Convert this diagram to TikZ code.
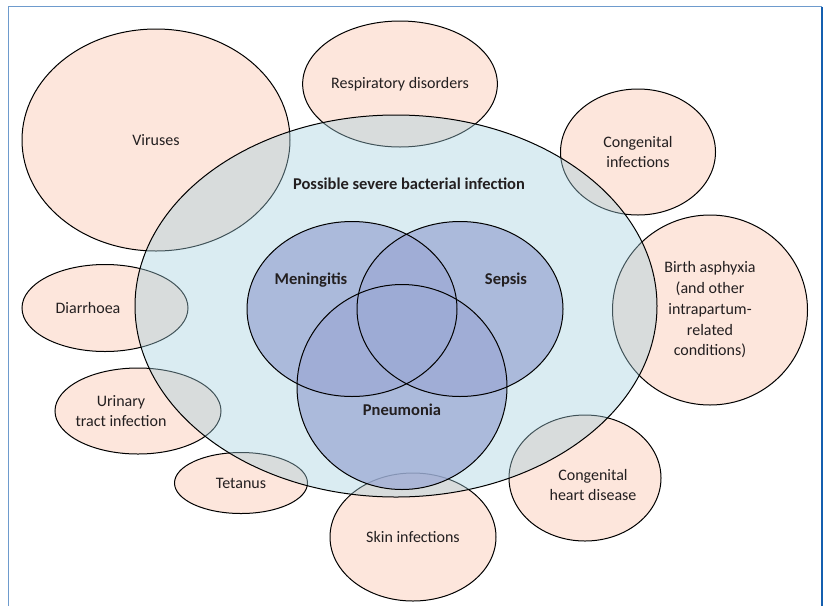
\documentclass[tikz,border=0pt]{standalone}
\usepackage{fontspec}
\setmainfont{Carlito}
\usetikzlibrary{shapes.geometric}

\definecolor{causefill}{RGB}{253,230,220}
\definecolor{psbifill}{RGB}{162,207,222}
\definecolor{vennfill}{RGB}{156,170,212}
\definecolor{frameleft}{RGB}{110,155,205}
\definecolor{frameright}{RGB}{20,95,175}
\definecolor{textgrey}{RGB}{35,31,32}

\begin{document}
\begin{tikzpicture}[x=1pt,y=-1pt,line width=1pt]
    \tikzstyle{every node}=[font=\fontsize{16}{20.75}\selectfont, text=textgrey]
    \tikzstyle{cause}=[ellipse,draw=black,fill=causefill,inner sep=0pt,align=center]
    \tikzstyle{venn}=[ellipse,inner sep=0pt,fill=vennfill,fill opacity=0.75]
    \tikzstyle{annot}=[font=\fontsize{16.5}{20.75}\selectfont\bfseries]

    \useasboundingbox (0,0) rectangle (824,606);
    % frame
    \draw[frameleft, line width=1.5pt] (8.5,606) -- (8.5,6.5) -- (822,6.5);
    \draw[frameright, line width=1.5pt] (822,6.5) -- (822,606);

    % other causes, drawn below the big ellipse
    \node[cause, minimum width=268pt, minimum height=222pt] (vir) at (156,140) {Viruses};
    \node[cause, minimum width=194pt, minimum height=126pt] (resp) at (400,84) {Respiratory disorders};
    \node[cause, minimum width=155pt, minimum height=126pt] (cinf) at (638,152) {Congenital\\infections};
    \node[cause, minimum width=195pt, minimum height=190pt] (asph) at (710,310)
        {Birth asphyxia\\(and other\\intrapartum-\\related\\conditions)};
    \node[cause, minimum width=152pt, minimum height=126pt,
        label={[shift={(8,7)}, align=center]center:Congenital\\heart disease}] (chd) at (585,478) {};
    \node[cause, minimum width=166pt, minimum height=128pt] (skin) at (413,537) {Skin infections};
    \node[cause, minimum width=133pt, minimum height=61pt] (tet) at (241,483) {Tetanus};
    \node[cause, minimum width=166pt, minimum height=86pt,
        label={[shift={(-17,0)}, align=center]center:Urinary\\tract infection}] (uti) at (138,411) {};
    \node[cause, minimum width=166pt, minimum height=87pt,
        label={[shift={(-17,0)}]center:Diarrhoea}] (dia) at (105,308) {};

    % possible severe bacterial infection
    \node[ellipse, inner sep=0pt, fill=psbifill, fill opacity=0.4, draw=black,
        minimum width=522pt, minimum height=382pt] (psbi) at (396,306) {};
    \node[annot] (psbi-l) at (409,184) {Possible severe bacterial infection};

    % the three overlapping infections
    \node[venn, minimum width=210pt, minimum height=175pt] (men) at (352,309) {};
    \node[venn, minimum width=206pt, minimum height=175pt] (sep) at (460,309) {};
    \node[venn, minimum width=210pt, minimum height=205pt] (pne) at (402,387) {};
    \draw (men.center) ellipse [x radius=105, y radius=87.5];
    \draw (sep.center) ellipse [x radius=103, y radius=87.5];
    \draw (pne.center) ellipse [x radius=105, y radius=102.5];
    \node[annot] (men-l) at (311,280) {Meningitis};
    \node[annot] (sep-l) at (506,280) {Sepsis};
    \node[annot] (pne-l) at (402,410) {Pneumonia};
\end{tikzpicture}
\end{document}
